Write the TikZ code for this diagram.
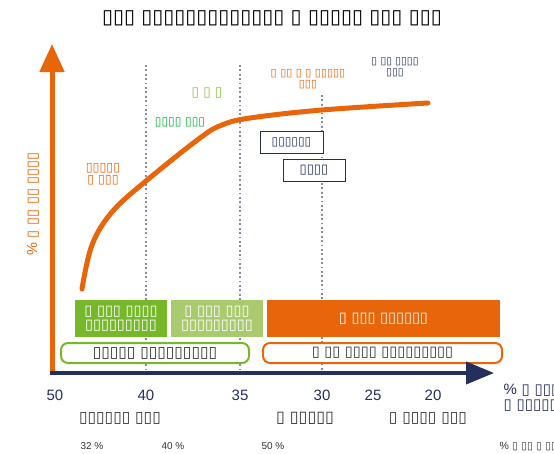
\documentclass[tikz,border=0pt]{standalone}
\usepackage{fontspec}
\setmainfont{Liberation Sans}
\newfontfamily\tofufont{DejaVu Sans}
\usepackage{xcolor}
\usetikzlibrary{positioning}
\usetikzlibrary{arrows.meta}

\definecolor{dryorange}{HTML}{E8650A}
\definecolor{drynavy}{HTML}{252E5C}
\definecolor{drygreen}{HTML}{77B82A}
\definecolor{drylight}{HTML}{A9CB6E}
\definecolor{drytext}{HTML}{333333}
\definecolor{drydots}{HTML}{8A8AAE}

\tikzset{
  fs/.style={font=\tofufont\fontsize{#1}{#1}\selectfont},
  numfs/.style={font=\fontsize{#1}{#1}\selectfont},
  band/.style={minimum height=37pt, inner sep=0pt, align=center, text=white},
  phase/.style={draw, rounded corners=7pt, line width=2pt, minimum height=20pt, inner sep=0pt, text=drytext},
  tag/.style={draw=drynavy, fill=white, line width=1pt, minimum height=22pt, inner sep=0pt, text=drynavy},
  guide/.style={drydots, line width=1.8pt, dash pattern=on 1.8pt off 2.6pt},
  tick/.style={numfs=15, text=drynavy},
}

\begin{document}
\begin{tikzpicture}[x=1pt, y=-1pt]
  \useasboundingbox (0,0) rectangle (554,453);

  % title
  \node[fs=20] (title) at (272,18) {▯▯▯ ▯▯▯▯▯▯▯▯▯▯▯▯▯ ▯ ▯▯▯▯▯ ▯▯▯ ▯▯▯};

  % guide lines
  \coordinate (g40top) at (146,65);  \coordinate (g40bot) at (146,372);
  \coordinate (g35top) at (240,65);  \coordinate (g35bot) at (240,372);
  \coordinate (g30top) at (322,95);  \coordinate (g30bot) at (322,372);
  \draw[guide] (g40top) -- (g40bot);
  \draw[guide] (g35top) -- (g35bot);
  \draw[guide] (g30top) -- (g30bot);

  % bands
  \node[band, fill=drygreen, minimum width=92pt, fs=14.5] (bandA) at (121,318.5) {▯ ▯▯▯ ▯▯▯▯\\▯▯▯▯▯▯▯▯▯};
  \node[band, fill=drylight, minimum width=92pt, fs=14.5] (bandB) at (217,318.5) {▯ ▯▯▯ ▯▯▯\\▯▯▯▯▯▯▯▯▯};
  \node[band, fill=dryorange, minimum width=233pt, fs=14.5] (bandC) at (383.5,318.5) {▯ ▯▯▯ ▯▯▯▯▯▯};

  \node[phase, draw=drygreen, fill=white, minimum width=188pt, fs=15.5] (phaseA) at (155,353) {▯▯▯▯▯ ▯▯▯▯▯▯▯▯▯};
  \node[phase, draw=dryorange, fill=white, minimum width=239pt, fs=14.5] (phaseB) at (382.5,353) {▯ ▯▯ ▯▯▯▯ ▯▯▯▯▯▯▯▯▯};

  % axes
  \coordinate (origin) at (52,373);
  \coordinate (ytip) at (52,44);
  \coordinate (xstart) at (50,373);
  \coordinate (xtip) at (494,373);
  \draw[dryorange, line width=5pt, -{Triangle[length=28pt, width=24pt]}] (origin) -- (ytip);
  \draw[drynavy, line width=4pt, -{Triangle[length=28pt, width=22pt]}] (xstart) -- (xtip);

  % curve
  \draw[dryorange, line width=5pt, line cap=round] plot[smooth, tension=0.6] coordinates
    {(82,289) (92,245) (112,212) (146,181) (200,138) (222,125) (250,118) (322,110) (428,103)};

  % labels on the chart
  \node[fs=12.5, text=dryorange, align=center] (lblA) at (103,174) {▯▯▯▯▯\\▯ ▯▯▯};
  \node[fs=12, text=green!55!teal!90!black] (lblB) at (180,122) {▯▯▯▯ ▯▯▯};
  \node[fs=13.5, text=drygreen!85!white] (lblC) at (207,93) {▯ ▯ ▯};
  \node[fs=11, text=dryorange, align=center] (lblD) at (308,79.5) {▯ ▯▯ ▯ ▯ ▯▯▯▯▯\\▯▯▯};
  \node[fs=10.5, text=drynavy, align=center] (lblE) at (395,67.5) {▯ ▯▯ ▯▯▯▯\\▯▯▯};

  \node[tag, minimum width=63pt, fs=12] (tagA) at (291.5,142) {▯▯▯▯▯▯};
  \node[tag, minimum width=62pt, fs=13] (tagB) at (314,170.5) {▯▯▯▯};

  % y axis title
  \node[fs=14.5, text=dryorange, rotate=90] (ytitle) at (33,204) {\fontspec{Liberation Sans}\%\tofufont{} ▯ ▯▯ ▯▯ ▯▯▯▯};

  % ticks
  \node[tick] (t50) at (55,395) {50};
  \node[tick] (t40) at (146,395) {40};
  \node[tick] (t35) at (240,395) {35};
  \node[tick] (t30) at (322,395) {30};
  \node[tick] (t25) at (373,395) {25};
  \node[tick] (t20) at (433,395) {20};
  \node[fs=15, text=drynavy, anchor=west, align=left] (xtitle) at (500,398) {\fontspec{Liberation Sans}\%\tofufont{} ▯ ▯▯▯▯\\▯ ▯▯▯▯▯▯};

  % stages
  \node[fs=15.5, text=drytext] (stA) at (120,418) {▯▯▯▯▯▯ ▯▯▯};
  \node[fs=16, text=drytext] (stB) at (305,418) {▯ ▯▯▯▯▯};
  \node[fs=15.5, text=drytext] (stC) at (428,418) {▯ ▯▯▯▯ ▯▯▯};

  \node[numfs=10, text=drytext] (pA) at (92,446) {32 \%};
  \node[numfs=10, text=drytext] (pB) at (173,446) {40 \%};
  \node[numfs=10, text=drytext] (pC) at (273,446) {50 \%};
  \node[fs=10.5, text=drytext, anchor=west] (pD) at (496,446) {\fontspec{Liberation Sans}\%\tofufont{} ▯ ▯▯ ▯ ▯▯};
\end{tikzpicture}
\end{document}
